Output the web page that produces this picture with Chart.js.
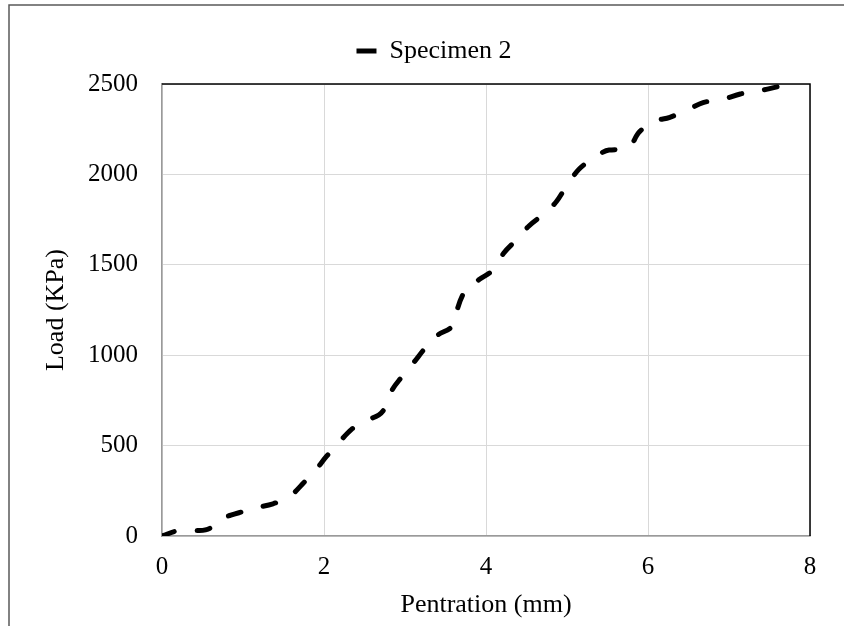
<!DOCTYPE html>
<html>
<head>
<meta charset="utf-8">
<script src="https://cdn.jsdelivr.net/npm/chart.js@4.4.1/dist/chart.umd.min.js"></script>
<style>
  html, body { margin: 0; padding: 0; background: #ffffff; }
  #wrap { width: 844px; height: 626px; }
</style>
</head>
<body>
<div id="wrap"><canvas id="loadChart" width="844" height="626"></canvas></div>
<script>
/* =======================
   DATA
======================= */
const seriesName = "Specimen 2";
const penetration = [0, 0.2, 0.45, 0.6, 0.68, 0.85, 1.0, 1.15, 1.37, 1.5, 1.62, 1.74, 1.8, 1.87, 2.03, 2.18, 2.34, 2.53, 2.75, 2.82, 2.96, 3.1, 3.25, 3.4, 3.56, 3.61, 3.65, 3.75, 3.92, 4.1, 4.22, 4.38, 4.53, 4.71, 4.87, 5.0, 5.14, 5.33, 5.52, 5.76, 5.88, 6.06, 6.27, 6.5, 6.68, 6.93, 7.14, 7.38, 7.6];
const load = [0, 28, 30, 45, 85, 115, 135, 155, 178, 200, 235, 290, 320, 350, 440, 515, 590, 640, 706, 790, 880, 955, 1040, 1110, 1150, 1175, 1260, 1362, 1420, 1478, 1565, 1640, 1715, 1780, 1850, 1940, 2025, 2090, 2135, 2145, 2228, 2290, 2316, 2360, 2397, 2416, 2445, 2463, 2485];
const xTicks = { min: 0, max: 8, step: 2 };
const yTicks = { min: 0, max: 2500, step: 500 };

const points = penetration.map((x, i) => ({ x: x, y: load[i] }));
const serif = "'Liberation Serif', 'Times New Roman', serif";

/* =======================
   PLUGINS
======================= */
// extra room under the legend so the plot starts lower
const legendGap = {
  id: "legendGap",
  beforeInit(chart) {
    const fit = chart.legend.fit;
    chart.legend.fit = function () {
      fit.bind(chart.legend)();
      this.height += 10;
    };
  }
};

const framePlugin = {
  id: "frame",
  afterDraw(chart) {
    const { ctx, chartArea } = chart;
    ctx.save();
    // outer chart border (left and top visible in the crop)
    ctx.strokeStyle = "#595959";
    ctx.lineWidth = 1.5;
    ctx.beginPath();
    ctx.moveTo(9, 626);
    ctx.lineTo(9, 5);
    ctx.lineTo(844, 5);
    ctx.stroke();
    // plot area top and right border
    ctx.strokeStyle = "#000000";
    ctx.lineWidth = 1.5;
    ctx.beginPath();
    ctx.moveTo(chartArea.left, chartArea.top);
    ctx.lineTo(chartArea.right, chartArea.top);
    ctx.lineTo(chartArea.right, chartArea.bottom);
    ctx.stroke();
    ctx.restore();
  }
};

/* =======================
   CHART
======================= */
new Chart(document.getElementById("loadChart"), {
  type: "line",
  data: {
    datasets: [{
      label: seriesName,
      data: points,
      borderColor: "#000000",
      backgroundColor: "#000000",
      borderWidth: 5,
      borderDash: [13, 23],
      borderCapStyle: "round",
      pointRadius: 0,
      fill: false,
      cubicInterpolationMode: "monotone"
    }]
  },
  options: {
    responsive: false,
    animation: false,
    layout: { padding: { left: 58, right: 34, top: 28, bottom: 0 } },
    plugins: {
      tooltip: { enabled: false },
      legend: {
        position: "top",
        labels: {
          font: { family: serif, size: 26 },
          color: "#000000",
          boxWidth: 20,
          boxHeight: 5,
          padding: 10,
          generateLabels(chart) {
            return chart.data.datasets.map((ds, i) => ({
              text: ds.label,
              fillStyle: "#000000",
              strokeStyle: "#000000",
              lineWidth: 0,
              lineDash: [],
              hidden: false,
              datasetIndex: i,
              fontColor: "#000000"
            }));
          }
        }
      }
    },
    scales: {
      x: {
        type: "linear",
        min: xTicks.min,
        max: xTicks.max,
        afterFit(scale) { scale.height = 90; },
        ticks: {
          stepSize: xTicks.step,
          color: "#000000",
          font: { family: serif, size: 25 },
          padding: 16
        },
        grid: { color: "#d9d9d9", drawTicks: false },
        border: { color: "#9a9a9a", width: 1.5 },
        title: {
          display: true,
          text: "Pentration (mm)",
          color: "#000000",
          font: { family: serif, size: 26 },
          padding: { bottom: 5 }
        }
      },
      y: {
        min: yTicks.min,
        max: yTicks.max,
        afterFit(scale) { scale.width = 104; },
        ticks: {
          stepSize: yTicks.step,
          color: "#000000",
          font: { family: serif, size: 25 },
          padding: 24,
          callback: (v) => String(v)
        },
        grid: { color: "#d9d9d9", drawTicks: false },
        border: { color: "#9a9a9a", width: 1.5 },
        title: {
          display: true,
          text: "Load (KPa)",
          color: "#000000",
          font: { family: serif, size: 26 },
          padding: { top: -17 }
        }
      }
    }
  },
  plugins: [legendGap, framePlugin]
});
</script>
</body>
</html>
